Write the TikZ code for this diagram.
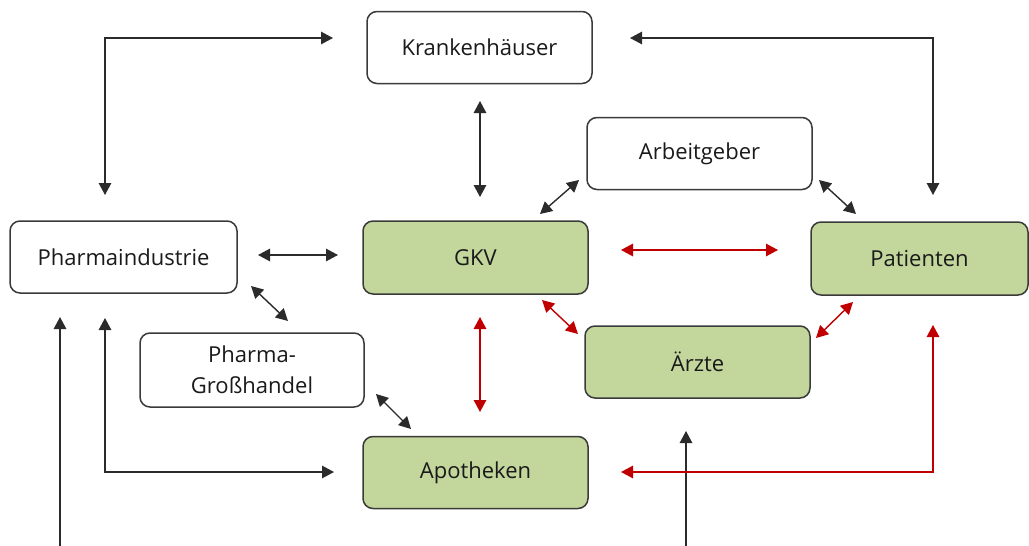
\documentclass[tikz,border=0pt]{standalone}
\usepackage{fontspec}
\setmainfont{Open Sans}
\usetikzlibrary{arrows.meta}
\definecolor{boxgreen}{HTML}{C3D69B}
\definecolor{boxline}{HTML}{3A3A3A}
\definecolor{arrblack}{HTML}{2B2B2B}
\definecolor{arrred}{HTML}{C00000}
\definecolor{txt}{HTML}{1A1A1A}
\tikzset{
  box/.style={draw=boxline, line width=1.5pt, rounded corners=10pt, fill=white, text=txt,
    minimum width=225pt, minimum height=72pt, inner sep=0pt, font=\fontsize{22}{31}\selectfont, align=center},
  gbox/.style={box, fill=boxgreen},
  tip/.style={Triangle[length=12pt,width=12.5pt]},
  arr/.style={draw=arrblack, line width=1.4pt, {Triangle[length=12pt,width=12.5pt]}-{Triangle[length=12pt,width=12.5pt]}},
  arrone/.style={draw=arrblack, line width=1.4pt, -{Triangle[length=12pt,width=12.5pt]}},
  rarr/.style={draw=arrred, line width=1.4pt, {Triangle[length=12pt,width=12.5pt]}-{Triangle[length=12pt,width=12.5pt]}},
}
\begin{document}
\begin{tikzpicture}[x=1pt,y=-1pt]
\useasboundingbox (0,0) rectangle (1029,546);
% nodes
\node[box]  (kh) at (479.5,47.5) {Krankenhäuser};
\node[box]  (ag) at (699.5,153.5) {Arbeitgeber};
\node[box, minimum width=227pt]  (pi) at (123.5,257) {Pharmaindustrie};
\node[gbox, minimum height=73pt] (gkv) at (475.5,257.5) {GKV};
\node[gbox, minimum width=217pt, minimum height=73pt] (pat) at (919.5,258.5) {Patienten};
\node[box, minimum width=224pt, minimum height=74pt] (gh) at (252,370) {Pharma-\\Großhandel};
\node[gbox] (ae) at (697.5,362) {Ärzte};
\node[gbox] (ap) at (475.5,472.5) {Apotheken};
% coordinates for free arrow ends
\coordinate (c1a) at (333,38);
\coordinate (c1b) at (105,195);
\coordinate (c2a) at (630,38);
\coordinate (c2b) at (933,195);
\coordinate (c3a) at (480,101);
\coordinate (c3b) at (480,197);
\coordinate (c4a) at (579,180);
\coordinate (c4b) at (540,214);
\coordinate (c5a) at (819,180);
\coordinate (c5b) at (856,214);
\coordinate (c6a) at (258,255);
\coordinate (c6b) at (338,255);
\coordinate (c7a) at (621,250);
\coordinate (c7b) at (778,250);
\coordinate (c8a) at (251,286);
\coordinate (c8b) at (288,321);
\coordinate (c9a) at (480,317);
\coordinate (c9b) at (480,412);
\coordinate (c10a) at (542,300);
\coordinate (c10b) at (578,334);
\coordinate (c11a) at (853,302);
\coordinate (c11b) at (816,338);
\coordinate (c12a) at (376,394);
\coordinate (c12b) at (411,429);
\coordinate (c13a) at (105,318);
\coordinate (c13b) at (334,472);
\coordinate (c14a) at (60,546);
\coordinate (c14b) at (60,317);
\coordinate (c15a) at (686,546);
\coordinate (c15b) at (686,431);
\coordinate (c16a) at (933,325);
\coordinate (c16b) at (621,472);
% connectors
\draw[arr] (c1a) -- (c1b |- c1a) -- (c1b);
\draw[arr] (c2a) -- (c2b |- c2a) -- (c2b);
\draw[arr] (c3a) -- (c3b);
\draw[arr] (c4a) -- (c4b);
\draw[arr] (c5a) -- (c5b);
\draw[arr] (c6a) -- (c6b);
\draw[rarr] (c7a) -- (c7b);
\draw[arr] (c8a) -- (c8b);
\draw[rarr] (c9a) -- (c9b);
\draw[rarr] (c10a) -- (c10b);
\draw[rarr] (c11a) -- (c11b);
\draw[arr] (c12a) -- (c12b);
\draw[arr] (c13a) -- (c13a |- c13b) -- (c13b);
\draw[arrone] (c14a) -- (c14b);
\draw[arrone] (c15a) -- (c15b);
\draw[rarr] (c16a) -- (c16a |- c16b) -- (c16b);
\end{tikzpicture}
\end{document}
